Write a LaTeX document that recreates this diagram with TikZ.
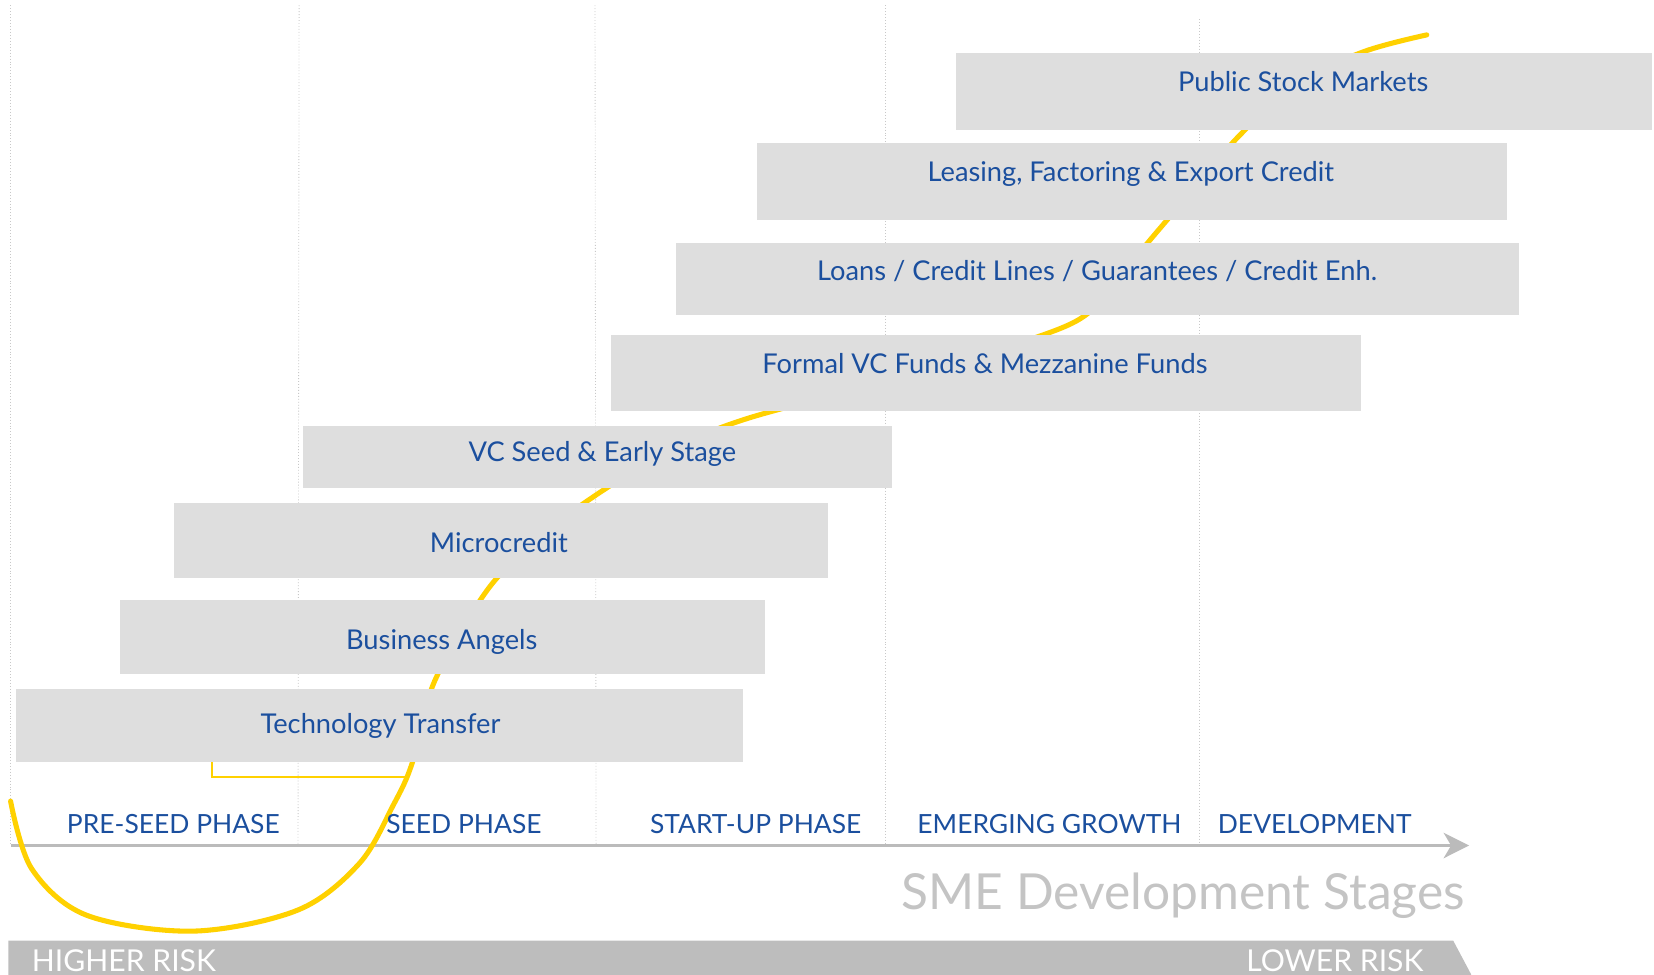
\documentclass[tikz,border=0pt]{standalone}
\usepackage{fontspec}
\setmainfont{Lato}
\usetikzlibrary{arrows.meta}
\definecolor{tblue}{HTML}{1B4F9E}
\definecolor{boxgray}{HTML}{DEDEDE}
\definecolor{axgray}{HTML}{BBBBBB}
\definecolor{bargray}{HTML}{BDBDBD}
\definecolor{cyellow}{HTML}{FFD100}
\definecolor{sgray}{HTML}{C4C4C4}
\definecolor{gridgray}{HTML}{C8C8C8}
\begin{document}
\begin{tikzpicture}[x=1pt,y=-1pt,
  fundbox/.style={fill=boxgray,draw=none},
  fundlabel/.style={text=tblue,font=\fontsize{25.8}{30}\selectfont,anchor=base,inner sep=0pt},
  phaselabel/.style={text=tblue,font=\fontsize{25}{29}\selectfont,anchor=base,inner sep=0pt},
  risklabel/.style={text=white,font=\fontsize{28.5}{32}\selectfont,anchor=base,inner sep=0pt},
  gridline/.style={draw=gridgray,line width=0.8pt,dotted},
  curveline/.style={draw=cyellow,line width=4.8pt,line cap=round},
]
\useasboundingbox (0,0) rectangle (1565,922);
\clip (0,0) rectangle (1565,922);
% grid lines
\coordinate (g1t) at (10,5);   \coordinate (g1b) at (10,800);
\coordinate (g2t) at (283,5);  \coordinate (g2b) at (282,800);
\coordinate (g3t) at (563,5);  \coordinate (g3b) at (564,800);
\coordinate (g4t) at (838,5);  \coordinate (g4b) at (838,800);
\coordinate (g5t) at (1135,18); \coordinate (g5b) at (1135,800);
\draw[gridline] (g1t) -- (g1b);
\draw[gridline] (g2t) -- (g2b);
\draw[gridline] (g3t) -- (g3b);
\draw[gridline] (g4t) -- (g4b);
\draw[gridline] (g5t) -- (g5b);
% axis
\coordinate (axs) at (10,800);
\coordinate (axe) at (1390,800);
\draw[axgray,line width=3pt,-{Stealth[length=24pt,width=24pt,inset=7pt]}] (axs) -- (axe);
% yellow bracket
\draw[cyellow,line width=1.8pt] (201,715) -- (201,735) -- (383,735);
% yellow curve
\draw[curveline] plot[smooth,tension=0.55] coordinates {
 (10,758) (30,822) (82,866) (183,881) (282,861) (340,817) (372,762) (390,722)
 (411,645) (462,557) (515,505) (563,469) (630,428) (707,396) (860,355)
 (1012,307) (1058,262) (1095,219) (1135,172) (1172,129) (1225,80) (1290,49) (1350,33)};
% boxes
\fill[fundbox] (905,50) rectangle (1563,123);
\fill[fundbox] (716,135) rectangle (1426,208);
\fill[fundbox] (640,230) rectangle (1437,298);
\fill[fundbox] (578,317) rectangle (1288,389);
\fill[fundbox] (287,403) rectangle (844,462);
\fill[fundbox] (165,476) rectangle (783,547);
\fill[fundbox] (114,568) rectangle (724,638);
\fill[fundbox] (15,652) rectangle (703,721);
% labels
\node[fundlabel] (psm) at (1233,87) {Public Stock Markets};
\node[fundlabel] (lfe) at (1070,172) {Leasing, Factoring \& Export Credit};
\node[fundlabel] (lcl) at (1038,265) {Loans / Credit Lines / Guarantees / Credit Enh.};
\node[fundlabel] (fvc) at (932,353) {Formal VC Funds \& Mezzanine Funds};
\node[fundlabel] (vcs) at (570,437) {VC Seed \& Early Stage};
\node[fundlabel] (mic) at (472,523) {Microcredit};
\node[fundlabel] (ban) at (418,615) {Business Angels};
\node[fundlabel] (tt)  at (360,694) {Technology Transfer};
% phases
\node[phaselabel] (p1) at (164,789) {PRE-SEED PHASE};
\node[phaselabel] (p2) at (439,789) {SEED PHASE};
\node[phaselabel] (p3) at (715,789) {START-UP PHASE};
\node[phaselabel] (p4) at (993,789) {EMERGING GROWTH};
\node[phaselabel] (p5) at (1244,789) {DEVELOPMENT};
% title
\node[text=sgray,font=\fontsize{47}{54}\selectfont,anchor=base east,inner sep=0pt] (sme) at (1386,861) {SME Development Stages};
% risk bar
\fill[bargray] (8,890) -- (1375,890) -- (1392,922) -- (1375,954) -- (8,954) -- cycle;
\node[risklabel,anchor=base west] (hr) at (30,919) {HIGHER RISK};
\node[risklabel,anchor=base east] (lr) at (1347,919) {LOWER RISK};
\end{tikzpicture}
\end{document}
